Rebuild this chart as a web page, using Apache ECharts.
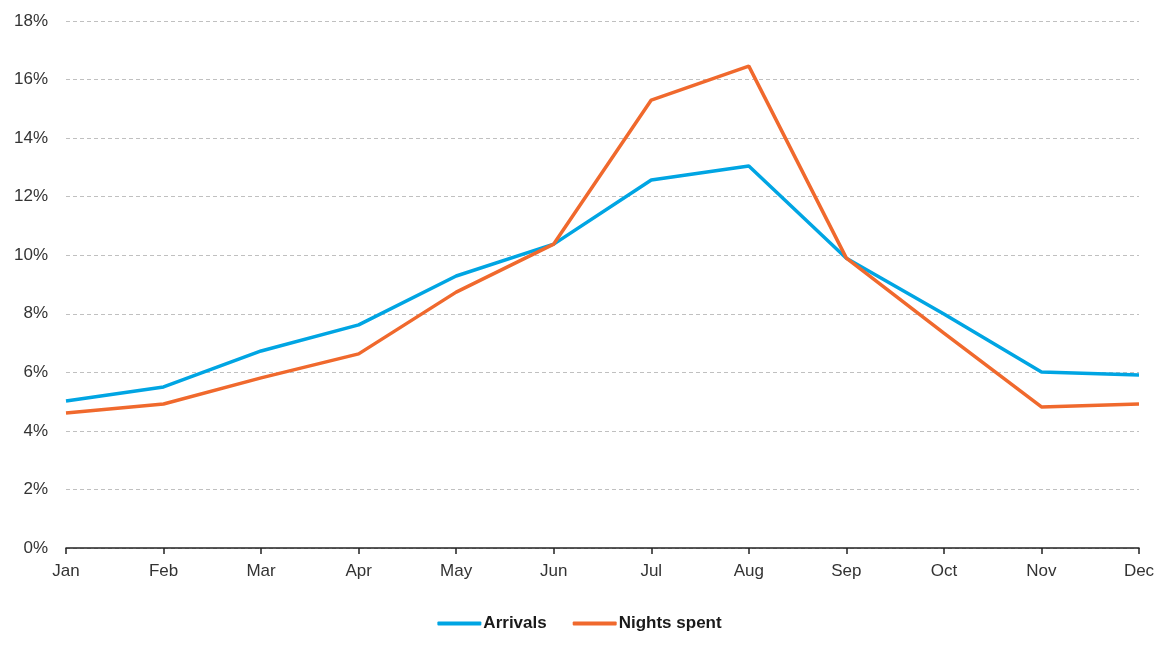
<!DOCTYPE html>
<html>
<head>
<meta charset="utf-8">
<script src="https://cdn.jsdelivr.net/npm/echarts@6/dist/echarts.min.js"></script>
<style>
  html, body { margin: 0; padding: 0; background: #fff; }
  #chart { width: 1159px; height: 659px; }
</style>
</head>
<body>
<div id="chart"></div>
<script>
const months = ['Jan', 'Feb', 'Mar', 'Apr', 'May', 'Jun', 'Jul', 'Aug', 'Sep', 'Oct', 'Nov', 'Dec'];
const arrivals = [5.02, 5.50, 6.73, 7.62, 9.29, 10.38, 12.57, 13.05, 9.90, 7.99, 6.01, 5.91];
const nightsSpent = [4.61, 4.92, 5.81, 6.63, 8.74, 10.38, 15.30, 16.46, 9.90, 7.34, 4.82, 4.92];

const chart = echarts.init(document.getElementById('chart'));

const font = 'Liberation Sans, Arial, sans-serif';

chart.setOption({
  animation: false,
  textStyle: { fontFamily: font },
  grid: { left: 66, right: 20, top: 21, bottom: 111 },
  legend: {
    bottom: 22,
    left: 'center',
    itemWidth: 44,
    itemHeight: 4,
    itemGap: 26,
    icon: 'roundRect',
    textStyle: { fontFamily: font, fontSize: 17, fontWeight: 'bold', color: '#1a1a1a', padding: [0, 0, 0, -3] },
    data: ['Arrivals', 'Nights spent']
  },
  xAxis: {
    type: 'category',
    data: months,
    boundaryGap: false,
    axisLine: { lineStyle: { color: '#222', width: 1.5 } },
    axisTick: { show: true, length: 6, lineStyle: { color: '#222', width: 1.5 } },
    axisLabel: { color: '#333', fontSize: 17, margin: 15, fontFamily: font }
  },
  yAxis: {
    type: 'value',
    min: 0,
    max: 18,
    interval: 2,
    axisLine: { show: false },
    axisTick: { show: false },
    axisLabel: { color: '#333', fontSize: 17, margin: 18, formatter: '{value}%', fontFamily: font },
    splitLine: { lineStyle: { color: '#c0c0c0', type: [4, 3], width: 1 } }
  },
  series: [
    {
      name: 'Arrivals',
      type: 'line',
      data: arrivals,
      symbol: 'none',
      lineStyle: { color: '#00A5E3', width: 3.5 },
      itemStyle: { color: '#00A5E3' }
    },
    {
      name: 'Nights spent',
      type: 'line',
      data: nightsSpent,
      symbol: 'none',
      lineStyle: { color: '#F0692D', width: 3.5 },
      itemStyle: { color: '#F0692D' }
    }
  ]
});
</script>
</body>
</html>
